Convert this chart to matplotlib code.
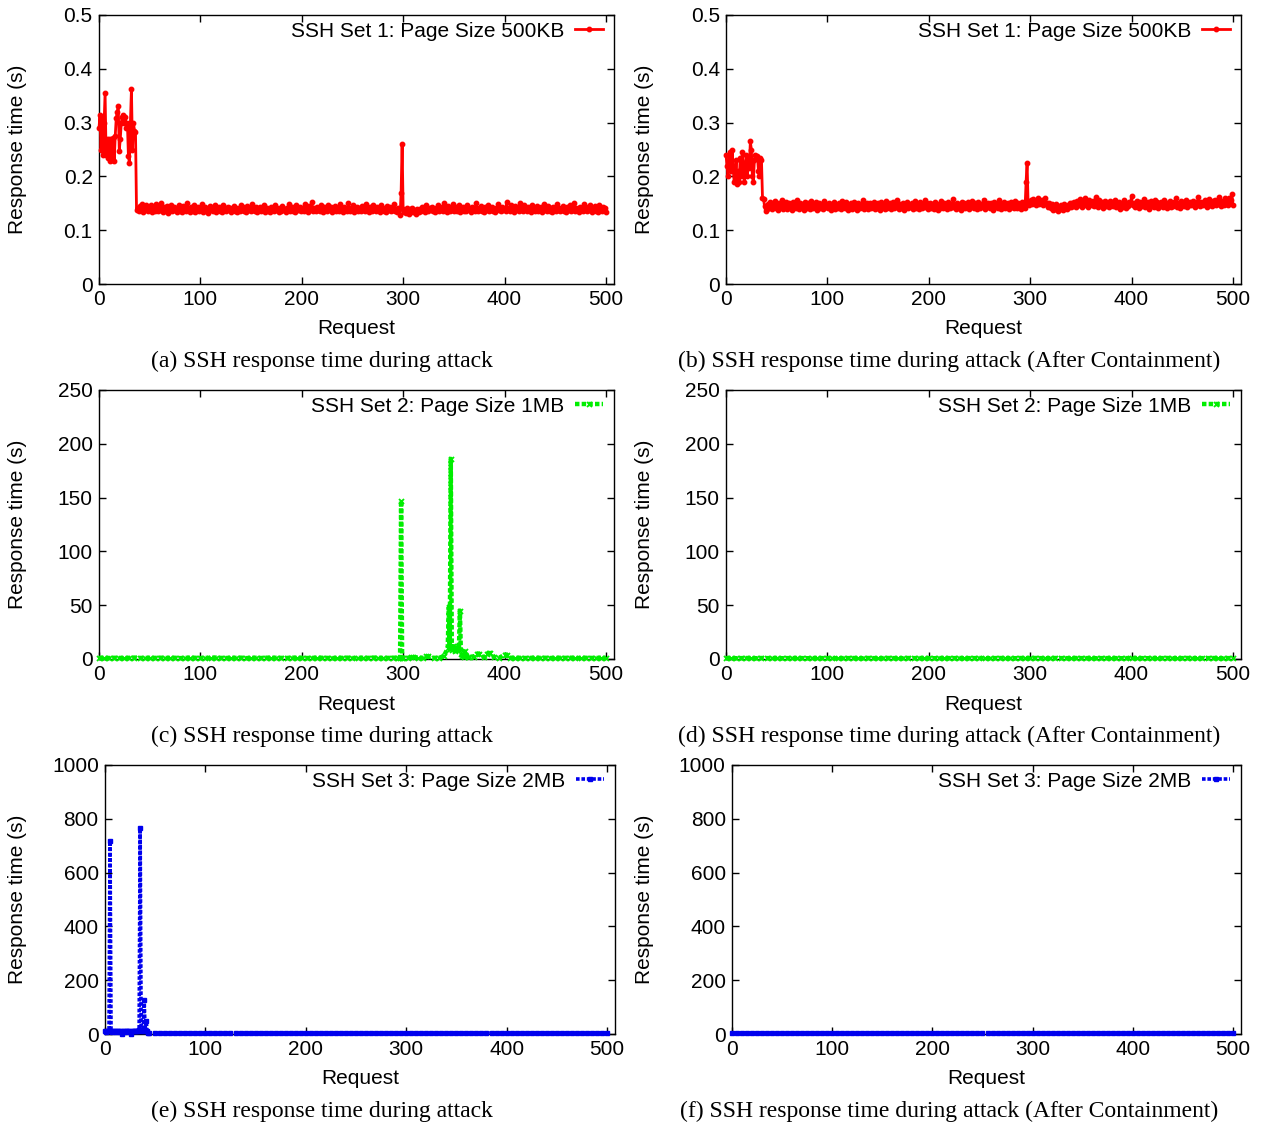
import numpy as np
import matplotlib.pyplot as plt

plt.rcParams['font.family'] = ['Liberation Sans', 'DejaVu Sans']

# ---- data -------------------------------------------------------------
# Set 1 (500KB), response time in ms, one value per request 0..500
set1_attack_ms = [
    290, 315, 250, 310, 240, 300, 355, 240, 270, 235, 270, 228, 270, 230, 272, 228, 275, 308, 320, 330,
    248, 270, 300, 310, 315, 300, 310, 290, 300, 238, 225, 300, 362, 250, 300, 285, 283, 138,
    142, 136, 145, 139, 148, 134, 141, 137, 146, 140, 135, 143, 138, 147, 133, 141, 144, 136, 149, 139,
    135, 142, 138, 151, 137, 134, 143, 140, 136, 145, 132, 141, 139, 146, 135, 138, 144, 137, 142, 134,
    140, 147, 136, 139, 133, 145, 138, 142, 135, 150, 137, 141, 134, 143, 139, 136, 146, 133, 140, 138,
    144, 135, 141, 137, 148, 134, 139, 143, 136, 140, 132, 145, 138, 142, 135, 139, 147, 134, 141, 137,
    143, 136, 140, 133, 146, 138, 142, 135, 139, 144, 137, 141, 134, 140, 138, 145, 136, 142, 133, 139,
    141, 135, 147, 138, 143, 136, 140, 134, 145, 139, 137, 142, 135, 148, 138, 141, 136, 144, 133, 140,
    138, 143, 135, 141, 137, 146, 134, 139, 142, 136, 140, 133, 144, 138, 141, 135, 147, 137, 142, 139,
    134, 141, 136, 145, 138, 140, 133, 142, 137, 149, 135, 139, 143, 136, 141, 134, 146, 138, 140, 137,
    143, 135, 139, 142, 136, 148, 138, 141, 134, 145, 137, 140, 152, 136, 142, 139, 135, 144, 138, 141,
    136, 147, 139, 134, 143, 138, 141, 135, 146, 140, 137, 143, 133, 140, 138, 145, 136, 142, 139, 135,
    148, 137, 141, 134, 144, 138, 140, 136, 151, 139, 135, 142, 137, 146, 134, 140, 143, 136, 139, 141,
    135, 145, 138, 142, 136, 149, 137, 140, 134, 143, 139, 136, 147, 138, 141, 135, 144, 137, 140, 133,
    146, 138, 142, 136, 140, 134, 145, 139, 137, 143, 135, 141, 138, 148, 136, 140, 134, 142, 139, 128,
    170, 260, 140, 134, 138, 132, 141, 136, 130, 139, 135, 142, 133, 138, 136, 131, 140, 137, 134, 139,
    135, 143, 137, 140, 133, 146, 138, 135, 141, 137, 144, 136, 139, 134, 142, 138, 147, 135, 140, 137,
    143, 136, 150, 138, 141, 134, 145, 139, 136, 142, 137, 148, 135, 140, 143, 136, 139, 146, 134, 141,
    138, 144, 136, 140, 135, 147, 139, 142, 137, 134, 143, 138, 141, 136, 150, 139, 135, 142, 138, 145,
    136, 140, 134, 143, 139, 137, 146, 135, 141, 138, 144, 136, 140, 133, 142, 139, 148, 137, 141, 135,
    144, 138, 140, 136, 152, 139, 142, 135, 147, 138, 141, 134, 145, 137, 140, 143, 136, 150, 138, 142,
    135, 146, 139, 141, 136, 144, 138, 140, 133, 147, 137, 142, 135, 139, 145, 136, 141, 138, 143, 134,
    140, 148, 137, 142, 135, 145, 139, 136, 141, 133, 144, 138, 140, 136, 149, 137, 142, 135, 140, 138,
    145, 136, 141, 134, 143, 139, 137, 146, 135, 140, 138, 150, 136, 142, 139, 134, 144, 137, 141, 136,
    148, 138, 140, 135, 143, 137, 146, 139, 134, 142, 138, 145, 136, 141, 133, 147, 139, 140, 135, 144,
    137, 142, 134,
]

set1_contained_ms = [
    240, 220, 200, 230, 245, 210, 250, 220, 190, 200, 230, 185, 210, 190, 235, 200, 245, 225, 190, 215,
    240, 200, 235, 215, 265, 250, 200, 190, 230, 240, 235, 238, 210, 200, 235, 230, 160, 158, 145, 135, 140,
    148, 142, 152, 145, 139, 150, 144, 155, 141, 147, 138, 151, 146, 143, 157, 140, 148, 145, 153, 139,
    146, 150, 142, 148, 137, 153, 144, 149, 141, 156, 145, 140, 151, 147, 143, 149, 138, 152, 146, 142,
    150, 144, 139, 155, 147, 141, 148, 143, 152, 137, 146, 150, 142, 149, 145, 140, 154, 146, 143, 148,
    141, 151, 145, 138, 149, 144, 153, 140, 147, 142, 150, 146, 139, 155, 143, 148, 141, 152, 145, 138,
    147, 143, 150, 140, 146, 152, 142, 148, 137, 151, 145, 141, 149, 144, 156, 140, 147, 143, 150, 139,
    146, 151, 142, 148, 144, 153, 139, 147, 141, 150, 145, 138, 152, 143, 148, 146, 140, 155, 142, 149,
    144, 150, 139, 147, 152, 141, 148, 143, 157, 145, 140, 149, 146, 142, 151, 138, 148, 144, 153, 141,
    147, 143, 150, 140, 146, 154, 142, 149, 145, 139, 152, 147, 141, 148, 144, 156, 143, 150, 139, 146,
    151, 142, 148, 145, 140, 153, 144, 149, 138, 147, 142, 155, 146, 141, 150, 143, 148, 139, 152, 145,
    141, 149, 144, 158, 143, 147, 140, 151, 146, 142, 148, 137, 153, 145, 150, 141, 147, 144, 152, 140,
    148, 143, 155, 146, 141, 150, 144, 139, 153, 147, 142, 149, 145, 157, 140, 148, 143, 151, 146, 141,
    150, 144, 138, 152, 147, 143, 149, 141, 156, 145, 140, 148, 146, 153, 142, 149, 144, 150, 139, 147,
    152, 143, 148, 141, 155, 146, 142, 150, 144, 147, 140, 153, 145, 149, 142, 190, 225, 150, 146, 152,
    156, 148, 158, 150, 154, 147, 152, 159, 148, 155, 150, 157, 146, 153, 160, 149, 151, 144, 150, 147,
    142, 148, 138, 145, 140, 149, 136, 143, 139, 146, 141, 137, 148, 142, 145, 140, 147, 143, 150, 144,
    150, 145, 152, 147, 143, 155, 149, 146, 158, 151, 144, 153, 148, 160, 146, 150, 143, 157, 149, 152,
    147, 154, 145, 151, 162, 148, 144, 156, 150, 146, 153, 141, 149, 155, 145, 151, 147, 143, 154, 148,
    152, 145, 149, 157, 143, 150, 146, 153, 140, 148, 151, 144, 156, 147, 142, 150, 145, 152, 148, 164,
    146, 151, 143, 149, 155, 147, 141, 153, 148, 145, 150, 158, 144, 149, 146, 152, 140, 148, 154, 145,
    150, 143, 156, 147, 152, 141, 149, 145, 153, 148, 144, 157, 146, 151, 142, 150, 147, 155, 143, 149,
    145, 152, 148, 160, 144, 150, 146, 141, 154, 148, 152, 145, 149, 157, 143, 151, 147, 153, 146, 150,
    155, 148, 144, 152, 147, 161, 149, 145, 153, 150, 146, 156, 148, 143, 152, 158, 147, 151, 145, 154,
    149, 157, 146, 152, 148, 162, 150, 145, 155, 151, 147, 159, 149, 153, 146, 160, 151, 156, 167, 146,
]

# Set 2 (1MB), seconds. Baseline sampled every 5 requests (0..500), plus event points.
set2_attack_base = [
    1.0, 1.2, 0.9, 1.1, 1.0, 0.8, 1.1, 1.3, 1.0, 0.9,
    1.1, 1.0, 1.2, 0.9, 1.0, 1.1, 0.8, 1.0, 1.2, 1.1,
    0.9, 1.0, 1.1, 1.3, 1.0, 0.9, 1.1, 1.0, 1.2, 0.8,
    1.0, 1.1, 0.9, 1.2, 1.0, 1.1, 1.0, 0.9, 1.3, 1.0,
    1.1, 0.9, 1.0, 1.2, 1.1, 1.0, 0.8, 1.1, 1.0, 1.2,
    0.9, 1.0, 1.1, 1.0, 1.3, 1.1, 0.9, 1.0, 1.2, 1.0,
    1.1, 1.0, 2.0, 1.2, 1.0, 2.5, 1.1, 1.0, 2.5, 10.0,
    10.0, 8.0, 1.5, 2.0, 2.2, 5.0, 1.5, 5.5, 1.8, 1.2,
    4.0, 1.2, 1.0, 1.1, 0.9, 1.0, 1.2, 1.0, 1.1, 0.9,
    1.0, 1.1, 1.0, 1.2, 0.9, 1.0, 1.1, 1.0, 0.9, 1.1,
    1.0,
]
set2_attack_event_req = [297, 298, 299, 308, 323, 340, 344, 345, 346, 347, 348, 349, 350,
                         351, 352, 353, 354, 355, 356, 357, 358, 361, 364, 373, 383, 386, 402]
set2_attack_event_val = [1.0, 147, 1.2, 2.0, 2.5, 2.5, 10, 48, 9, 186, 8, 12, 10,
                         7, 11, 9, 12, 8, 45, 5, 3, 7, 2, 5, 5, 5.5, 4]

set2_contained_base = [
    0.8, 0.9, 0.7, 0.8, 0.9, 0.8, 0.7, 0.9, 0.8, 0.8,
    0.9, 0.7, 0.8, 0.8, 0.9, 0.8, 0.7, 0.8, 0.9, 0.8,
    0.8, 0.9, 0.7, 0.8, 0.8, 0.9, 0.8, 0.7, 0.9, 0.8,
    0.7, 0.8, 0.9, 0.8, 0.8, 0.7, 0.9, 0.8, 0.8, 0.9,
    0.8, 0.7, 0.8, 0.9, 0.8, 0.8, 0.9, 0.7, 0.8, 0.8,
    0.9, 0.8, 0.7, 0.8, 0.9, 0.8, 0.8, 0.7, 0.9, 0.8,
    0.8, 0.9, 0.8, 0.7, 0.8, 0.9, 0.8, 0.8, 0.7, 0.9,
    0.8, 0.8, 0.9, 0.7, 0.8, 0.8, 0.9, 0.8, 0.7, 0.8,
    0.9, 0.8, 0.8, 0.7, 0.9, 0.8, 0.8, 0.9, 0.7, 0.8,
    0.8, 0.9, 0.8, 0.7, 0.8, 0.8, 0.9, 0.8, 0.7, 0.8,
    0.9,
]

# Set 3 (2MB), seconds. First 45 requests individually, then every 5 requests (50..500).
set3_attack_head = [
    10, 9, 11, 10, 12, 717, 10, 9, 11, 10, 12, 9, 10, 11, 10, 9, 11, 1, 10,
    11, 9, 10, 12, 10, 11, 9, 1, 10, 11, 12, 10, 11, 13, 12, 14, 764, 12, 14, 11,
    125, 13, 48, 10, 4, 3,
]
set3_attack_tail = [
    3, 2, 3, 3, 2, 3, 4, 3, 2, 3,
    3, 2, 3, 3, 4, 3, 2, 3, 3, 2,
    3, 4, 3, 2, 3, 3, 2, 3, 3, 4,
    3, 2, 3, 3, 2, 3, 3, 4, 2, 3,
    3, 2, 3, 4, 3, 3, 2, 3, 3, 2,
    3, 3, 4, 3, 2, 3, 3, 2, 3, 3,
    4, 3, 2, 3, 3, 2, 3, 4, 3, 3,
    2, 3, 3, 2, 3, 4, 3, 3, 2, 3,
    3, 2, 4, 3, 3, 2, 3, 3, 4, 3,
    2,
]
set3_contained_base = [
    3, 2, 3, 3, 2, 3, 3, 2, 3, 3,
    2, 3, 3, 3, 2, 3, 3, 2, 3, 3,
    3, 2, 3, 3, 2, 3, 3, 3, 2, 3,
    3, 2, 3, 3, 3, 2, 3, 3, 2, 3,
    3, 3, 2, 3, 3, 2, 3, 3, 3, 2,
    3, 3, 2, 3, 3, 3, 2, 3, 3, 2,
    3, 3, 3, 2, 3, 3, 2, 3, 3, 3,
    2, 3, 3, 2, 3, 3, 3, 2, 3, 3,
    2, 3, 3, 3, 2, 3, 3, 2, 3, 3,
    3, 2, 3, 3, 2, 3, 3, 3, 2, 3,
    3,
]

labels = ['SSH Set 1: Page Size 500KB', 'SSH Set 2: Page Size 1MB', 'SSH Set 3: Page Size 2MB']
captions = [
    '(a) SSH response time during attack',
    '(b) SSH response time during attack (After Containment)',
    '(c) SSH response time during attack',
    '(d) SSH response time during attack (After Containment)',
    '(e) SSH response time during attack',
    '(f) SSH response time during attack (After Containment)',
]
yticks_set1 = [0, 0.1, 0.2, 0.3, 0.4, 0.5]
ylabels_set1 = ['0', '0.1', '0.2', '0.3', '0.4', '0.5']
yticks_set2 = [0, 50, 100, 150, 200, 250]
yticks_set3 = [0, 200, 400, 600, 800, 1000]
xticks = [0, 100, 200, 300, 400, 500]


def merge(base, step, ev_req=(), ev_val=(), start=0):
    pts = {start + i * step: v for i, v in enumerate(base)}
    pts.update(dict(zip(ev_req, ev_val)))
    req = sorted(pts)
    return np.array(req), np.array([pts[r] for r in req])


# ---- figure -----------------------------------------------------------
W, H = 1263, 1124
fig = plt.figure(figsize=(W / 100, H / 100), dpi=100)

red = dict(color='#ff0000', lw=2.0, ls='-', marker='o', ms=3.2)
green = dict(color='#00ee00', lw=3.2, ls=(0, (1, 0.5)), marker='x', ms=3.6, mew=1.3)
blue = dict(color='#0000ee', lw=2.6, ls=(0, (1, 0.5)), marker='s', ms=3.0)


def panel(box, ylab_x, x, y, style, label, yticks, ylabels, caption, cap_x, cap_y):
    left, top, right, bottom = box
    ax = fig.add_axes([left / W, 1 - bottom / H, (right - left) / W, (bottom - top) / H])
    ax.plot(x, y, label=label, clip_on=False, zorder=3, **style)
    ax.set_xlim(0, 508)
    ax.set_ylim(yticks[0], yticks[-1])
    ax.set_xticks(xticks)
    ax.set_yticks(yticks)
    ax.set_yticklabels(ylabels)
    ax.tick_params(direction='in', top=True, right=True, length=5, width=1, labelsize=15)
    ax.tick_params(axis='x', pad=4.5)
    ax.tick_params(axis='y', pad=4.5)
    for s in ax.spines.values():
        s.set_linewidth(1.0)
    ax.legend(loc='upper right', bbox_to_anchor=(0.978, 0.975), frameon=False, markerfirst=False,
              fontsize=15, handlelength=1.35, handletextpad=0.5, borderpad=0, borderaxespad=0)
    cx = (left + right) / 2
    fig.text(ylab_x / W, 1 - ((top + bottom) / 2) / H, 'Response time (s)', rotation=90,
             ha='center', va='center', fontsize=15)
    fig.text(cx / W, 1 - (bottom + 45) / H, 'Request', ha='center', va='center', fontsize=15)
    fig.text(cap_x / W, 1 - cap_y / H, caption, ha='center', va='center', fontsize=17,
             family=['Liberation Serif', 'DejaVu Serif'])
    return ax


x1a = np.arange(len(set1_attack_ms))
x1b = np.arange(len(set1_contained_ms))
x2a, y2a = merge(set2_attack_base, 5, set2_attack_event_req, set2_attack_event_val)
x2b, y2b = merge(set2_contained_base, 5)
x3a_head = np.arange(len(set3_attack_head))
x3a_tail, y3a_tail = merge(set3_attack_tail, 5, start=50)
x3a = np.concatenate([x3a_head, x3a_tail])
y3a = np.concatenate([set3_attack_head, y3a_tail])
x3b, y3b = merge(set3_contained_base, 5)

s2 = [str(v) for v in yticks_set2]
s3 = [str(v) for v in yticks_set3]

panel((99, 15, 614, 284), 18, x1a, np.array(set1_attack_ms) / 1000, red, labels[0],
      yticks_set1, ylabels_set1, captions[0], 322, 361)
panel((726, 15, 1241, 284), 645, x1b, np.array(set1_contained_ms) / 1000, red, labels[0],
      yticks_set1, ylabels_set1, captions[1], 949, 361)
panel((99, 390, 614, 659), 18, x2a, y2a, green, labels[1], yticks_set2, s2, captions[2], 322, 736)
panel((726, 390, 1241, 659), 645, x2b, y2b, green, labels[1], yticks_set2, s2, captions[3], 949, 736)
panel((105, 765, 615, 1034), 18, x3a, y3a, blue, labels[2], yticks_set3, s3, captions[4], 322, 1111)
panel((732, 765, 1241, 1034), 645, x3b, y3b, blue, labels[2], yticks_set3, s3, captions[5], 949, 1111)

fig.savefig('out.png', dpi=100, facecolor='white')
